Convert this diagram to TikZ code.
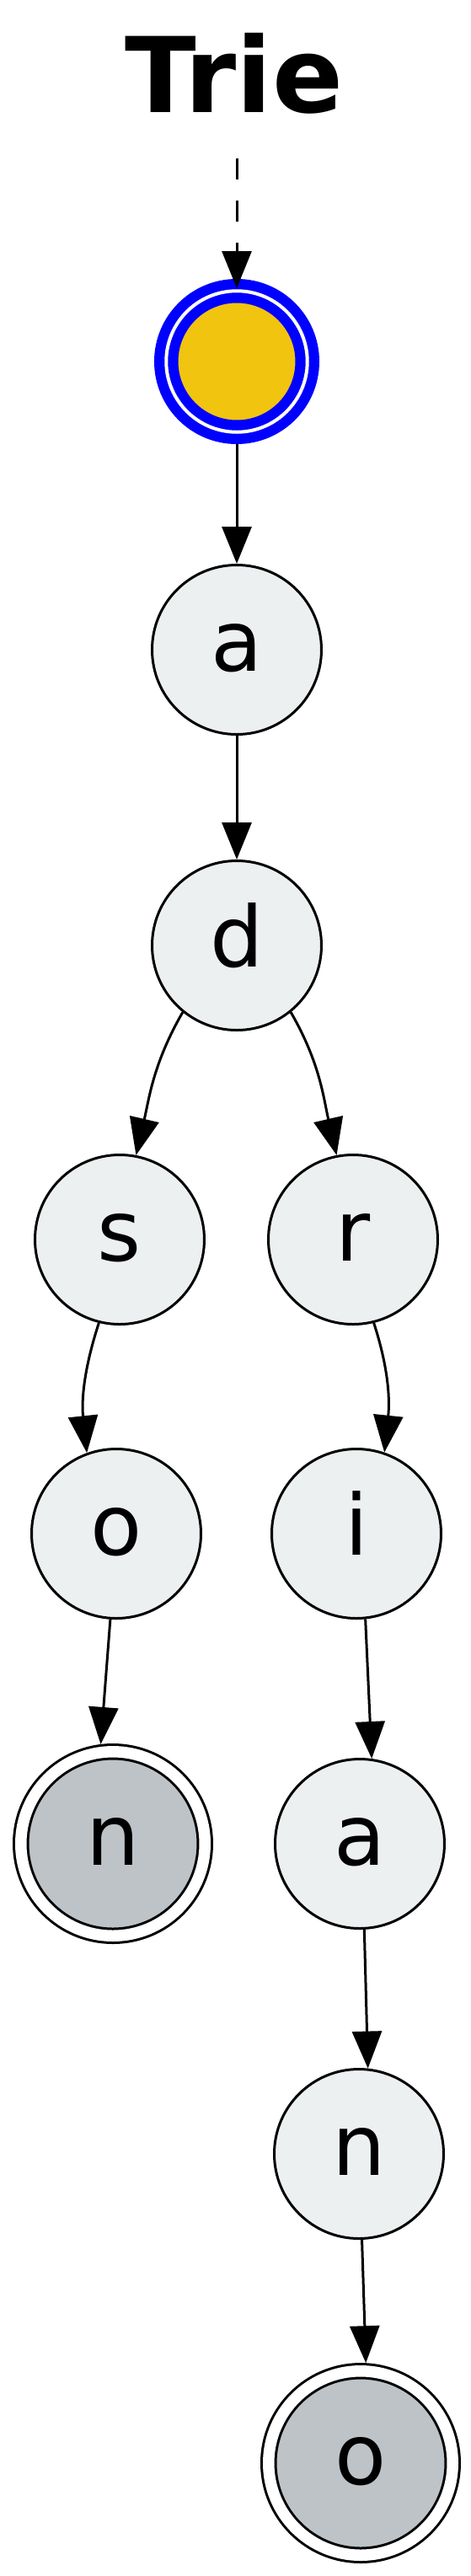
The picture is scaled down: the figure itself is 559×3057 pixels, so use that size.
\documentclass[tikz,border=0pt]{standalone}
\usepackage{fontspec}
\setmainfont{DejaVu Sans}
\usepackage{xcolor}
\usepackage{tikz}
\usetikzlibrary{arrows.meta}

\definecolor{clouds}{HTML}{ECF0F1}
\definecolor{silver}{HTML}{BDC3C7}
\definecolor{sunflower}{HTML}{F1C40F}

\begin{document}
\begin{tikzpicture}[x=1pt, y=1pt, line width=3pt]
  \tikzstyle{letter}=[draw, circle, fill=clouds, minimum size=201pt, inner sep=0pt,
    font=\fontsize{100pt}{120pt}\selectfont, text height=51pt, text depth=0pt]
  \tikzstyle{finalnode}=[letter, fill=silver, minimum size=218.5pt, double, double distance=13.5pt, outer sep=9.75pt]
  \tikzstyle{rootnode}=[draw=blue, circle, fill=sunflower, line width=12.25pt, double, double distance=4pt,
    minimum size=167.5pt, inner sep=0pt, outer sep=14.25pt]
  \tikzstyle{link}=[-{Triangle[length=44pt,width=35pt]}]
\useasboundingbox (0,0) rectangle (559,-3057);
\node[font=\bfseries\fontsize{124pt}{140pt}\selectfont, anchor=base] (title) at (278,-133) {Trie};
\coordinate (entry) at (281,-188);
\node[rootnode] (root) at (281,-429) {};
\foreach \name/\txt/\x/\y in {a1/a/281/771, d/d/281/1122, s/s/142/1471, r/r/419/1471,
    o1/o/138/1820, i/i/423/1820, a2/a/427/2188, n2/n/426/2556}{
    \node[letter] (\name) at (\x,-\y) {\txt};
      }
\node[finalnode] (n1) at (134,-2188) {n};
\node[finalnode] (o2) at (428,-2923) {o};
% edges
\draw[link, dash pattern=on 25pt off 25pt, shorten >=-11pt] (entry) -- (root);
\draw[link] (root) -- (a1);
\draw[link] (a1) -- (d);
\draw[link] (d.-129) to[out=-120, in=77] (s.79);
\draw[link] (d.-51) to[out=-60, in=103] (r.101);
\draw[link] (s.-104) to[out=-108, in=96] (o1.110);
\draw[link] (r.-76) to[out=-72, in=84] (i.71);
\draw[link] (o1.-94) -- (n1.97);
\draw[link] (i.-84) -- (a2.82);
\draw[link] (a2.-87) -- (n2.84);
\draw[link] (n2.-88) -- (o2.87);
\end{tikzpicture}
\end{document}
